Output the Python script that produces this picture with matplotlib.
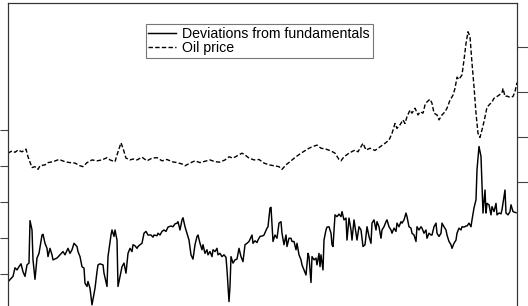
import numpy as np
import matplotlib
matplotlib.use('Agg')
import matplotlib.pyplot as plt

plt.rcParams['font.family'] = ['Liberation Sans', 'DejaVu Sans']

dev_t = [1, 5, 7, 9, 11, 13, 15, 17, 19, 21, 22, 24, 25, 27, 29, 31, 34, 35, 37, 39,
         40, 42, 44, 45, 49, 52, 55, 57, 60, 62, 64, 66, 69, 70, 72, 74, 76, 77, 79, 80,
         82, 84, 87, 89, 90, 92, 95, 96, 99, 100, 103, 104, 106, 107, 109, 110, 112, 114, 116, 118,
         120, 122, 124, 125, 127, 129, 130, 132, 134, 136, 138, 140, 143, 145, 146, 149, 150, 152, 154, 156,
         158, 160, 163, 165, 167, 169, 170, 172, 174, 175, 177, 179, 181, 183, 185, 187, 189, 190, 192, 194,
         195, 197, 199, 200, 202, 204, 205, 207, 209, 210, 212, 214, 216, 218, 219, 221, 222, 223, 225, 227,
         229, 231, 233, 235, 237, 239, 241, 244, 245, 247, 249, 250, 252, 255, 256, 259, 260, 262, 263, 265,
         267, 269, 271, 273, 274, 276, 278, 279, 281, 283, 284, 286, 288, 289, 291, 293, 294, 296, 298, 300,
         301, 303, 304, 306, 308, 309, 311, 312, 313, 315, 316, 318, 319, 321, 323, 324, 325, 327, 329, 331,
         333, 334, 336, 338, 339, 341, 343, 344, 346, 348, 349, 351, 353, 355, 357, 359, 361, 363, 364, 366,
         368, 369, 371, 373, 374, 376, 378, 379, 381, 383, 384, 386, 388, 389, 391, 393, 394, 396, 398, 399,
         401, 403, 404, 406, 408, 409, 411, 413, 414, 416, 418, 419, 421, 423, 424, 426, 428, 429, 431, 433,
         434, 436, 438, 439, 441, 443, 444, 446, 448, 449, 451, 453, 454, 456, 458, 459, 461, 463, 464, 466,
         468, 469, 471, 473, 474, 475, 477, 478, 479, 481, 483, 484, 486, 488, 489, 491, 493, 494, 497, 498,
         500, 502, 503, 505, 508]
dev_val = [-1.19, -1.07, -0.83, -0.89, -0.80, -0.72, -0.94, -1.07, -0.75, -0.70, 0.48, 0.22, -0.61, -1.15, -0.56, -0.43, 0.08, 0.10, -0.15, -0.29,
           -0.52, -0.29, -0.47, -0.61, -0.56, -0.47, -0.38, -0.47, -0.29, -0.43, -0.33, -0.15, -0.24, -0.38, -0.52, -0.80, -0.84, -1.26, -1.35, -1.21,
           -1.40, -1.86, -1.40, -0.94, -0.75, -0.72, -0.75, -0.98, -1.35, -0.52, 0.08, 0.22, 0.04, 0.22, -0.06, -1.35, -1.07, -0.80, -0.70, -0.98,
           -0.43, -0.29, -0.38, -0.19, -0.22, -0.29, -0.24, -0.19, -0.15, 0.13, 0.18, 0.08, 0.08, 0.02, 0.08, 0.06, 0.13, 0.08, 0.18, 0.22,
           0.18, 0.30, 0.33, 0.31, 0.39, 0.41, 0.45, 0.22, 0.50, 0.56, 0.31, 0.13, -0.06, -0.47, -0.59, -0.19, 0.04, 0.08, -0.15, -0.33,
           -0.19, -0.43, -0.33, -0.47, -0.38, -0.52, -0.33, -0.38, -0.29, -0.47, -0.43, -0.52, -0.47, -0.54, -0.89, -1.77, -1.35, -0.52, -0.70, -0.61,
           -0.59, -0.29, -0.52, -0.66, -0.19, -0.15, -0.10, 0.08, -0.15, -0.08, -0.13, -0.06, 0.04, 0.06, 0.08, 0.27, 0.31, 0.83, 0.85, -0.10,
           0.08, -0.01, 0.41, 0.45, 0.13, -0.19, 0.08, -0.24, -0.01, -0.01, -0.10, -0.10, -0.33, -0.15, -0.47, -0.61, -0.75, -0.89, -1.03, -0.43,
           -0.52, -1.24, -0.52, -0.61, -0.56, -0.75, -0.43, -0.80, -0.47, -0.89, -0.06, 0.22, 0.30, 0.31, 0.13, -0.19, -0.24, 0.64, 0.59, 0.66,
           0.59, 0.73, 0.50, 0.55, -0.06, 0.55, 0.22, -0.06, 0.50, 0.13, -0.06, 0.31, 0.22, -0.24, -0.19, 0.31, 0.04, -0.15, 0.41, 0.50,
           0.22, 0.45, 0.31, -0.01, 0.22, 0.31, 0.45, 0.50, 0.31, 0.22, 0.13, 0.27, 0.18, 0.41, 0.31, 0.45, 0.41, 0.50, 0.69, 0.59,
           0.31, 0.27, 0.13, 0.08, -0.10, 0.31, 0.22, 0.31, 0.27, 0.13, 0.22, -0.01, 0.13, 0.08, 0.08, 0.31, 0.41, 0.13, 0.04, 0.13,
           0.41, 0.31, 0.22, 0.08, -0.10, -0.19, -0.29, -0.15, -0.06, 0.13, 0.27, 0.22, 0.31, 0.30, 0.33, 0.33, 0.41, 0.31, 0.50, 0.83,
           1.06, 1.89, 2.54, 2.26, 1.43, 0.69, 1.33, 0.69, 0.96, 0.92, 0.64, 0.87, 0.73, 0.96, 0.64, 0.69, 0.67, 0.78, 1.33, 0.69,
           0.64, 0.73, 0.92, 0.73, 0.70]

oil_t = [0, 4, 7, 10, 14, 18, 20, 24, 27, 30, 32, 37, 40, 45, 51, 57, 62, 67, 72, 75,
         79, 84, 89, 94, 99, 102, 107, 109, 113, 115, 118, 122, 125, 129, 134, 139, 144, 149, 154, 159,
         164, 169, 174, 177, 182, 187, 192, 197, 202, 207, 212, 217, 221, 225, 229, 234, 237, 241, 246, 251,
         256, 261, 266, 271, 274, 278, 283, 288, 293, 298, 301, 304, 309, 313, 318, 323, 327, 331, 333, 336,
         341, 347, 350, 355, 358, 362, 367, 372, 377, 381, 384, 387, 389, 392, 395, 397, 399, 402, 404, 407,
         410, 412, 415, 417, 419, 422, 424, 426, 429, 431, 434, 437, 439, 442, 445, 447, 449, 451, 454, 456,
         458, 460, 462, 464, 466, 468, 470, 472, 474, 476, 479, 481, 484, 486, 489, 491, 494, 495, 497, 499,
         502, 505, 507, 509]
oil_val = [2.64, 2.69, 2.66, 2.71, 2.67, 2.73, 2.56, 2.32, 2.34, 2.28, 2.36, 2.38, 2.43, 2.45, 2.50, 2.45, 2.43, 2.42, 2.36, 2.34,
           2.43, 2.49, 2.47, 2.49, 2.54, 2.49, 2.45, 2.60, 2.87, 2.75, 2.53, 2.49, 2.51, 2.49, 2.55, 2.47, 2.53, 2.54, 2.47, 2.50,
           2.45, 2.43, 2.40, 2.36, 2.42, 2.47, 2.43, 2.46, 2.49, 2.45, 2.44, 2.49, 2.56, 2.53, 2.58, 2.64, 2.60, 2.53, 2.49, 2.50,
           2.42, 2.38, 2.36, 2.34, 2.28, 2.38, 2.47, 2.56, 2.64, 2.71, 2.75, 2.78, 2.82, 2.75, 2.73, 2.69, 2.64, 2.50, 2.47, 2.56,
           2.64, 2.71, 2.67, 2.86, 2.71, 2.75, 2.70, 2.78, 2.86, 2.93, 3.08, 3.30, 3.19, 3.27, 3.38, 3.30, 3.45, 3.60, 3.53, 3.64,
           3.49, 3.56, 3.53, 3.71, 3.78, 3.84, 3.75, 3.53, 3.49, 3.38, 3.49, 3.56, 3.64, 3.82, 3.93, 4.08, 4.33, 4.28, 4.38, 4.71,
           5.08, 5.34, 5.23, 4.64, 4.12, 3.53, 3.08, 2.99, 3.16, 3.34, 3.66, 3.71, 3.78, 3.86, 3.90, 3.93, 3.98, 4.08, 3.90, 3.91,
           3.88, 3.90, 4.01, 4.21]

labels = ['Deviations from fundamentals', 'Oil price']

fig = plt.figure(figsize=(5.28, 3.06), dpi=100)
ax = fig.add_axes([8/528, 1 - 307/306, 509/528, 304.5/306])
ax2 = ax.twinx()

l1, = ax.plot(dev_t, dev_val, color='black', lw=1.05)
l2, = ax2.plot(oil_t, oil_val, color='black', lw=1.0, linestyle=(0, (3.2, 1.6)))

ax.set_xlim(0, 509)
ax.set_ylim(-1.92, 6.54)
ax2.set_ylim(-0.78, 5.99)

ax.set_xticks([])
ax.set_yticks([-1, 0, 1, 2, 3])
ax2.set_yticks([2, 3, 4, 5])
ax.tick_params(axis='y', direction='out', length=6, width=0.8, color='#444444', labelleft=False)
ax2.tick_params(axis='y', direction='out', length=8, width=0.8, color='#444444', labelright=False)

for a in (ax, ax2):
    for s in a.spines.values():
        s.set_color('#333333')
        s.set_linewidth(0.8)

leg = ax.legend([l1, l2], labels, loc='upper center', bbox_to_anchor=(0.4935, 0.928),
                fontsize=10.2, frameon=True, fancybox=False, handlelength=1.95,
                handletextpad=0.45, borderpad=0.2, labelspacing=0.0, borderaxespad=0)
leg.get_frame().set_edgecolor('#555555')
leg.get_frame().set_linewidth(0.8)

fig.savefig('out.png', dpi=100)
